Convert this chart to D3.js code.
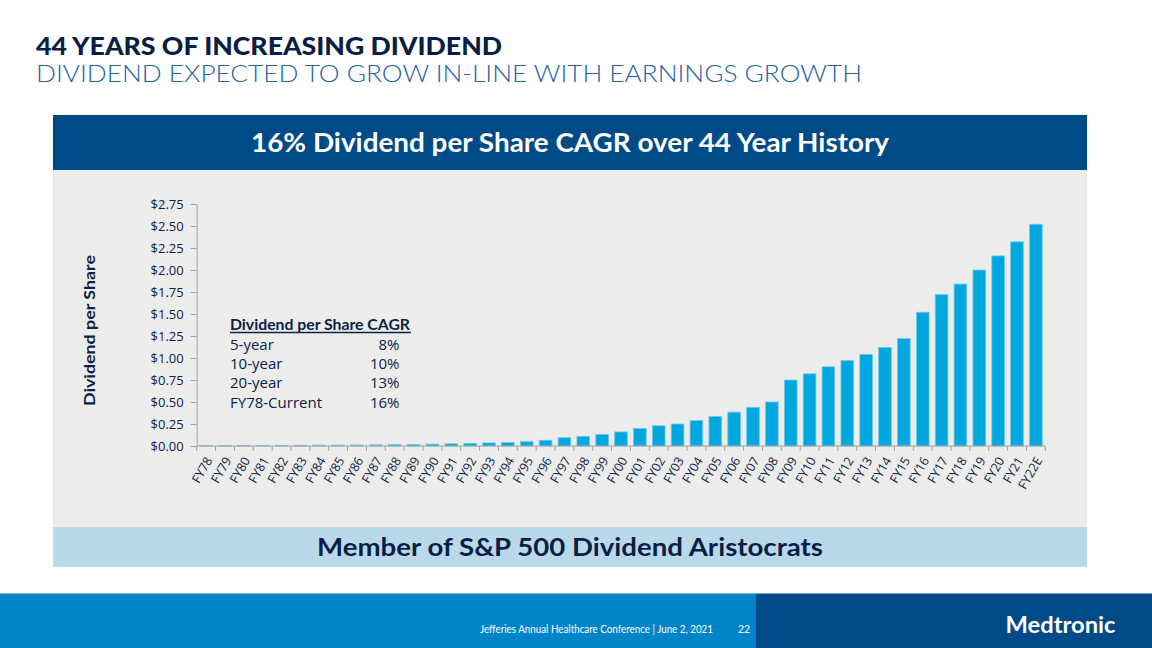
<!DOCTYPE html>
<html><head><meta charset="utf-8">
<script src="https://cdn.jsdelivr.net/npm/d3@7"></script>
<style>body{margin:0;background:#fff}svg{display:block}</style>
</head><body><svg id="c" width="1152" height="648"></svg>
<script>
const categories = ["FY78","FY79","FY80","FY81","FY82","FY83","FY84","FY85","FY86","FY87","FY88","FY89","FY90","FY91","FY92","FY93","FY94","FY95","FY96","FY97","FY98","FY99","FY00","FY01","FY02","FY03","FY04","FY05","FY06","FY07","FY08","FY09","FY10","FY11","FY12","FY13","FY14","FY15","FY16","FY17","FY18","FY19","FY20","FY21","FY22E"];
const dividends = [0.003,0.004,0.005,0.006,0.007,0.008,0.009,0.010,0.011,0.013,0.015,0.018,0.021,0.025,0.030,0.035,0.040,0.050,0.065,0.094,0.11,0.13,0.16,0.20,0.23,0.25,0.29,0.335,0.385,0.44,0.50,0.75,0.82,0.90,0.97,1.04,1.12,1.22,1.52,1.72,1.84,2.00,2.16,2.32,2.52];
const yTicks = [0,0.25,0.5,0.75,1.0,1.25,1.5,1.75,2.0,2.25,2.5,2.75];
const cagrTitle = "Dividend per Share CAGR";
const cagrLabels = ["5-year","10-year","20-year","FY78-Current"];
const cagrValues = ["8%","10%","13%","16%"];

const svg = d3.select("#c");
const navy = "#0d2247";

// background panels
svg.append("rect").attr("x",0).attr("y",0).attr("width",1152).attr("height",648).attr("fill","#fff");
svg.append("rect").attr("x",53).attr("y",170).attr("width",1034).attr("height",357).attr("fill","#ececea");
svg.append("rect").attr("x",53).attr("y",115).attr("width",1034).attr("height",55).attr("fill","#004b87");
svg.append("rect").attr("x",53).attr("y",527).attr("width",1034).attr("height",40).attr("fill","#b9d9eb");

// titles
svg.append("text").attr("x",36).attr("y",54.5).attr("font-family","Lato").attr("font-weight",900)
  .attr("font-size",24.5).attr("fill","#0a1e45").attr("textLength",466).attr("lengthAdjust","spacingAndGlyphs")
  .text("44 YEARS OF INCREASING DIVIDEND");
svg.append("text").attr("x",36).attr("y",82).attr("font-family","Lato").attr("font-weight",300)
  .attr("font-size",24).attr("fill","#2262a6").attr("textLength",826).attr("lengthAdjust","spacingAndGlyphs")
  .text("DIVIDEND EXPECTED TO GROW IN-LINE WITH EARNINGS GROWTH");
svg.append("text").attr("x",570).attr("y",152).attr("text-anchor","middle").attr("font-family","Lato").attr("font-weight",700)
  .attr("font-size",26).attr("fill","#fff").attr("textLength",638).attr("lengthAdjust","spacingAndGlyphs")
  .text("16% Dividend per Share CAGR over 44 Year History");
svg.append("text").attr("x",570).attr("y",556).attr("text-anchor","middle").attr("font-family","Lato").attr("font-weight",700)
  .attr("font-size",25).attr("fill","#0a1e45").attr("textLength",506).attr("lengthAdjust","spacingAndGlyphs")
  .text("Member of S&P 500 Dividend Aristocrats");

// scales
const x = d3.scaleBand().domain(categories).range([196.7,1045.3]).paddingInner(0.33).paddingOuter(0.165);
const y = d3.scaleLinear().domain([0,2.75]).range([446,204]);

// bars
svg.append("g").selectAll("rect").data(categories).join("rect")
  .attr("x",d=>x(d)).attr("width",x.bandwidth())
  .attr("y",(d,i)=>y(dividends[i])).attr("height",(d,i)=>y(0)-y(dividends[i]))
  .attr("fill","#00a8df").attr("stroke","#6cc8ea").attr("stroke-width",0.8);

// y axis
const ya = svg.append("g").attr("transform","translate(196.7,0)")
  .call(d3.axisLeft(y).tickValues(yTicks).tickFormat(d=>"$"+d.toFixed(2)).tickSize(6).tickSizeOuter(0).tickPadding(7));
ya.select(".domain").attr("stroke","#a0a0a0");
ya.selectAll(".tick line").attr("stroke","#a0a0a0");
ya.selectAll("text").attr("font-family","Open Sans").attr("font-size",13).attr("fill",navy);

// x axis
const step = x.step();
const xa = svg.append("g").attr("transform","translate(0,446)");
xa.append("line").attr("x1",x.range()[0]).attr("x2",x.range()[1]).attr("stroke","#a0a0a0");
const bounds = categories.map(c=>x(c)-x.paddingInner()*step/2).concat([x.range()[1]]);
xa.selectAll("line.tk").data(bounds).join("line").attr("class","tk")
  .attr("x1",d=>d).attr("x2",d=>d).attr("y1",0).attr("y2",5).attr("stroke","#a0a0a0");
xa.selectAll("text").data(categories).join("text")
  .attr("transform",d=>`translate(${x(d)+x.bandwidth()/2+3},12) rotate(-60)`)
  .attr("text-anchor","end").attr("dy","0.35em")
  .attr("font-family","Open Sans").attr("font-size",12.5).attr("fill",navy).text(d=>d);

// y title
svg.append("text").attr("transform","translate(95,330.5) rotate(-90)").attr("text-anchor","middle")
  .attr("font-family","Lato").attr("font-weight",700).attr("font-size",16).attr("fill",navy)
  .attr("textLength",151).attr("lengthAdjust","spacingAndGlyphs").text("Dividend per Share");

// CAGR inset
const ins = svg.append("g");
ins.append("text").attr("x",230).attr("y",330).attr("font-family","Lato").attr("font-weight",700)
  .attr("font-size",15).attr("fill",navy).attr("textLength",180).attr("lengthAdjust","spacingAndGlyphs").text(cagrTitle);
ins.append("line").attr("x1",230).attr("x2",411).attr("y1",332.5).attr("y2",332.5).attr("stroke",navy).attr("stroke-width",1.3);
ins.selectAll("text.l").data(cagrLabels).join("text").attr("class","l")
  .attr("x",230).attr("y",(d,i)=>350+i*19.2).attr("font-family","Open Sans").attr("font-size",15).attr("fill",navy).text(d=>d);
ins.selectAll("text.v").data(cagrValues).join("text").attr("class","v")
  .attr("x",399.5).attr("y",(d,i)=>350+i*19.2).attr("text-anchor","end").attr("font-family","Open Sans").attr("font-size",15).attr("fill",navy).text(d=>d);

// footer
svg.append("rect").attr("x",0).attr("y",593.5).attr("width",756).attr("height",54.5).attr("fill","#0084c8");
svg.append("rect").attr("x",756).attr("y",593.5).attr("width",396).attr("height",54.5).attr("fill","#004b87");
svg.append("text").attr("x",713).attr("y",633).attr("text-anchor","end").attr("font-family","Lato").attr("font-size",10.5)
  .attr("fill","#fff").attr("textLength",233).attr("lengthAdjust","spacingAndGlyphs").text("Jefferies Annual Healthcare Conference | June 2, 2021");
svg.append("text").attr("x",744).attr("y",633).attr("text-anchor","middle").attr("font-family","Lato").attr("font-size",10.5)
  .attr("fill","#fff").text("22");
svg.append("text").attr("x",1005.5).attr("y",632.5).attr("font-family","Lato").attr("font-weight",700).attr("font-size",23.5)
  .attr("fill","#fff").attr("textLength",110).attr("lengthAdjust","spacingAndGlyphs").text("Medtronic");
</script></body></html>
